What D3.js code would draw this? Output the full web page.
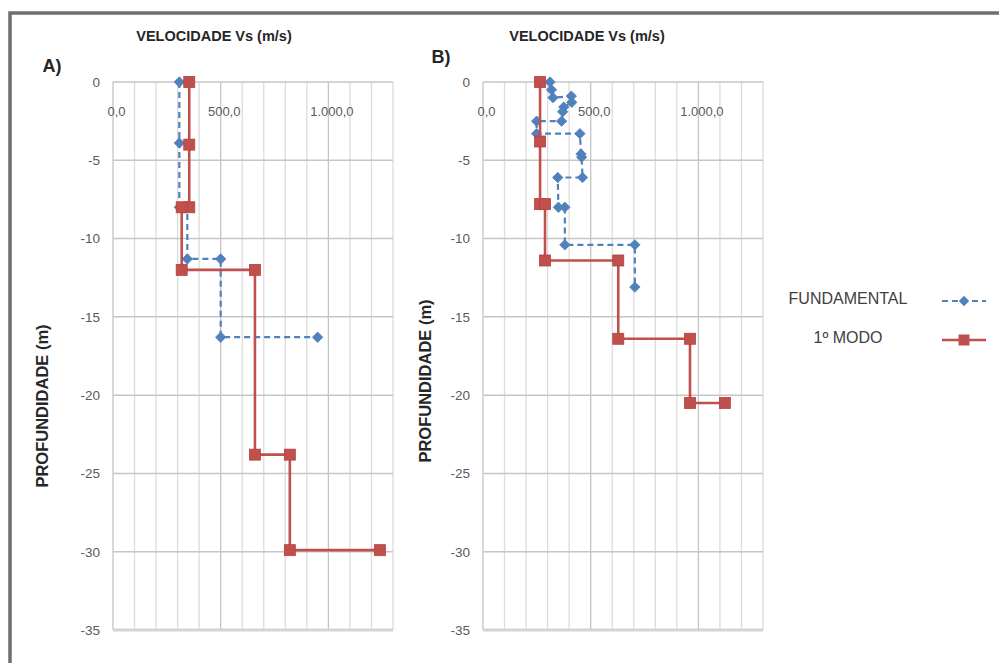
<!DOCTYPE html>
<html>
<head>
<meta charset="utf-8">
<script src="https://cdn.jsdelivr.net/npm/d3@7"></script>
<style>
  html, body { margin: 0; padding: 0; background: #fff; }
  svg { display: block; }
  text { font-family: "Liberation Sans", Arial, sans-serif; }
</style>
</head>
<body>
<script>
// ---------- DATA ----------
const velocityTicks = [0, 500, 1000];
const velocityGrid = [0, 100, 200, 300, 400, 500, 600, 700, 800, 900, 1000, 1100, 1200, 1300];
const depthTicks = [0, -5, -10, -15, -20, -25, -30, -35];
const seriesNames = ["FUNDAMENTAL", "1º MODO"];

// Panel A
const fundA_vel   = [308, 308, 308, 345, 345, 500, 500, 950];
const fundA_depth = [0, -3.9, -8, -8, -11.3, -11.3, -16.3, -16.3];
const modoA_vel   = [354, 354, 354, 319, 319, 659, 659, 821, 821, 1239];
const modoA_depth = [0, -4, -8, -8, -12, -12, -23.8, -23.8, -29.9, -29.9];

// Panel B
const fundB_vel   = [311, 318, 325, 410, 412, 375, 370, 365, 249, 249, 450, 455, 458, 462, 347, 350, 380, 380, 705, 705];
const fundB_depth = [0, -0.5, -1.0, -0.9, -1.3, -1.6, -1.9, -2.5, -2.5, -3.3, -3.3, -4.6, -4.8, -6.1, -6.1, -8, -8, -10.4, -10.4, -13.1];
const modoB_vel   = [265, 265, 265, 288, 288, 628, 628, 961, 961, 1123];
const modoB_depth = [0, -3.8, -7.8, -7.8, -11.4, -11.4, -16.4, -16.4, -20.5, -20.5];

// ---------- STYLE / LAYOUT ----------
const W = 999, H = 663;
const BLUE = "#4f81bd", RED = "#c0504d";
const plotTop = 82, plotBottom = 630;
const diamond = "M0,-5.2L5.2,0L0,5.2L-5.2,0Z";

const panels = [
  { label: "A)", labelX: 52, labelY: 72, x0: 113, x1: 393, titleX: 214, yTitleX: 42, yTitleY: 406,
    fund: fundA_vel.map((v, i) => ({ v, d: fundA_depth[i] })),
    modo: modoA_vel.map((v, i) => ({ v, d: modoA_depth[i] })) },
  { label: "B)", labelX: 441, labelY: 63, x0: 483, x1: 763, titleX: 587, yTitleX: 425, yTitleY: 381,
    fund: fundB_vel.map((v, i) => ({ v, d: fundB_depth[i] })),
    modo: modoB_vel.map((v, i) => ({ v, d: modoB_depth[i] })) }
];

const ptBR = d3.formatLocale({ decimal: ",", thousands: ".", grouping: [3], currency: ["R$", ""] });
const fmtVel = ptBR.format(",.1f");

const svg = d3.select("body").append("svg").attr("width", W).attr("height", H);
svg.append("rect").attr("width", W).attr("height", H).attr("fill", "#fff");

// outer border
svg.append("rect")
  .attr("x", 10).attr("y", 13).attr("width", W + 20).attr("height", H + 20)
  .attr("fill", "none").attr("stroke", "#6f6f6f").attr("stroke-width", 3.5);

const y = d3.scaleLinear().domain([0, -35]).range([plotTop, plotBottom]);

panels.forEach(p => {
  const x = d3.scaleLinear().domain([0, 1300]).range([p.x0, p.x1]);
  const g = svg.append("g");

  // vertical gridlines
  g.append("g").selectAll("line").data(velocityGrid).join("line")
    .attr("x1", d => x(d)).attr("x2", d => x(d))
    .attr("y1", plotTop).attr("y2", plotBottom)
    .attr("stroke", d => d % 500 === 0 ? "#c4c4c4" : "#dcdcdc")
    .attr("stroke-width", 1.3);

  // horizontal gridlines
  g.append("g").selectAll("line").data(depthTicks).join("line")
    .attr("x1", p.x0).attr("x2", p.x1)
    .attr("y1", d => y(d)).attr("y2", d => y(d))
    .attr("stroke", d => d === -35 ? "#d4d4d4" : "#c6c6c6")
    .attr("stroke-width", d => d === -35 ? 3 : 1.5);

  // x axis (labels below the 0 line)
  const xAxis = d3.axisBottom(x).tickValues(velocityTicks).tickSize(0).tickPadding(25).tickFormat(fmtVel);
  const gx = g.append("g").attr("transform", `translate(0,${plotTop})`).call(xAxis);
  gx.select(".domain").remove();
  gx.selectAll("text").attr("font-size", 13).attr("fill", "#5a5a5a").attr("dx", 3)
    .attr("font-family", "'Liberation Sans', Arial, sans-serif");

  // y axis
  const yAxis = d3.axisLeft(y).tickValues(depthTicks).tickSize(0).tickPadding(13).tickFormat(d => String(d));
  const gy = g.append("g").attr("transform", `translate(${p.x0},0)`).call(yAxis);
  gy.select(".domain").remove();
  gy.selectAll("text").attr("font-size", 13.5).attr("fill", "#5a5a5a")
    .attr("font-family", "'Liberation Sans', Arial, sans-serif");

  // titles
  g.append("text").attr("x", p.titleX).attr("y", 41).attr("text-anchor", "middle")
    .attr("font-size", 14.5).attr("font-weight", "bold").attr("fill", "#262626")
    .text("VELOCIDADE Vs (m/s)");
  g.append("text").attr("x", p.labelX).attr("y", p.labelY).attr("text-anchor", "middle")
    .attr("font-size", 18).attr("font-weight", "bold").attr("fill", "#262626")
    .text(p.label);
  g.append("text")
    .attr("transform", `translate(${p.yTitleX},${p.yTitleY}) rotate(-90)`)
    .attr("text-anchor", "middle").attr("dy", "0.35em")
    .attr("font-size", 16.5).attr("font-weight", "bold").attr("fill", "#262626")
    .text("PROFUNDIDADE (m)");

  const line = d3.line().x(d => x(d.v)).y(d => y(d.d));

  // FUNDAMENTAL
  g.append("path").datum(p.fund).attr("d", line)
    .attr("fill", "none").attr("stroke", BLUE).attr("stroke-width", 2.2)
    .attr("stroke-dasharray", "6,4");
  g.append("g").selectAll("path").data(p.fund).join("path")
    .attr("transform", d => `translate(${x(d.v)},${y(d.d)})`)
    .attr("d", diamond)
    .attr("fill", BLUE).attr("stroke", BLUE).attr("stroke-width", 0.8);

  // 1º MODO
  g.append("path").datum(p.modo).attr("d", line)
    .attr("fill", "none").attr("stroke", RED).attr("stroke-width", 2.6);
  g.append("g").selectAll("rect").data(p.modo).join("rect")
    .attr("x", d => x(d.v) - 5.5).attr("y", d => y(d.d) - 5.5)
    .attr("width", 11).attr("height", 11)
    .attr("fill", RED).attr("stroke", "#b8403d").attr("stroke-width", 0.8);
});

// legend
const legend = svg.append("g");
const legendRows = [
  { name: seriesNames[0], color: BLUE, dashed: true, cy: 298 },
  { name: seriesNames[1], color: RED, dashed: false, cy: 337 }
];
legendRows.forEach(r => {
  legend.append("text").attr("x", 848).attr("y", r.cy).attr("dy", "0.35em")
    .attr("text-anchor", "middle").attr("font-size", 16).attr("fill", "#404040")
    .text(r.name);
  legend.append("line").attr("x1", 942).attr("x2", 986).attr("y1", r.cy + 3).attr("y2", r.cy + 3)
    .attr("stroke", r.color).attr("stroke-width", r.dashed ? 2.2 : 2.6)
    .attr("stroke-dasharray", r.dashed ? "6,4" : null);
  if (r.dashed) {
    legend.append("path").attr("transform", `translate(964,${r.cy + 3})`)
      .attr("d", diamond).attr("fill", r.color);
  } else {
    legend.append("rect").attr("x", 964 - 5.5).attr("y", r.cy + 3 - 5.5)
      .attr("width", 11).attr("height", 11).attr("fill", r.color);
  }
});
</script>
</body>
</html>
